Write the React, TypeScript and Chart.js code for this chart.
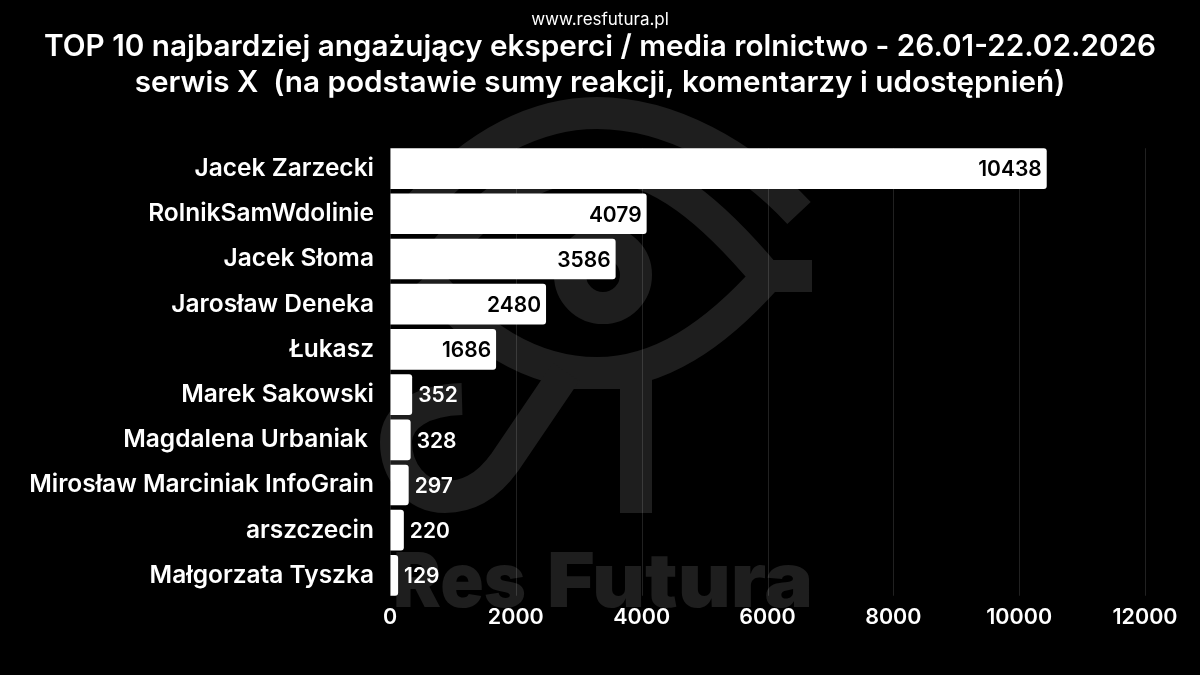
import React, { useEffect, useRef } from "react";
import { Chart, registerables } from "chart.js";

Chart.register(...registerables);

const categories = [
  "Jacek Zarzecki",
  "RolnikSamWdolinie",
  "Jacek Słoma",
  "Jarosław Deneka",
  "Łukasz",
  "Marek Sakowski",
  "Magdalena Urbaniak ",
  "Mirosław Marciniak InfoGrain",
  "arszczecin",
  "Małgorzata Tyszka",
];
const values = [10438, 4079, 3586, 2480, 1686, 352, 328, 297, 220, 129];
const siteLabel = "www.resfutura.pl";
const titleLines = [
  "TOP 10 najbardziej angażujący eksperci / media rolnictwo - 26.01-22.02.2026",
  "serwis X  (na podstawie sumy reakcji, komentarzy i udostępnień)",
];
const watermarkWords = ["Res", "Futura"];
const FONT = "Inter, 'Open Sans', sans-serif";
const MARK = "#1e1e1e";

const watermark = {
  id: "watermark",
  beforeDraw(chart: any) {
    const c = chart.ctx;
    c.save();
    c.fillStyle = "#000";
    c.fillRect(0, 0, chart.width, chart.height);
    c.strokeStyle = MARK;
    c.fillStyle = MARK;
    c.lineWidth = 32;
    c.lineCap = "butt";
    c.lineJoin = "round";
    // outer arc
    c.beginPath();
    c.moveTo(420, 205);
    c.bezierCurveTo(480, 140, 540, 113, 597, 113);
    c.bezierCurveTo(670, 113, 745, 155, 799, 213);
    c.stroke();
    // eye lids
    c.beginPath();
    c.moveTo(425, 277);
    c.bezierCurveTo(480, 200, 540, 165, 597, 165);
    c.bezierCurveTo(660, 165, 715, 215, 767, 277);
    c.bezierCurveTo(715, 335, 660, 373, 597, 373);
    c.bezierCurveTo(530, 373, 475, 335, 425, 277);
    c.stroke();
    // right stub
    c.beginPath();
    c.moveTo(760, 276);
    c.lineTo(812, 276);
    c.stroke();
    // pupil
    c.beginPath();
    c.arc(603, 275, 33, 0, Math.PI * 2);
    c.stroke();
    // stem
    c.beginPath();
    c.moveTo(636, 365);
    c.lineTo(636, 513);
    c.stroke();
    // top of stem joining the lid
    c.beginPath();
    c.moveTo(560, 373);
    c.lineTo(652, 373);
    c.stroke();
    // left tail
    c.beginPath();
    c.moveTo(566, 372);
    c.lineTo(505, 462);
    c.bezierCurveTo(485, 490, 465, 497, 445, 497);
    c.bezierCurveTo(415, 497, 396, 470, 396, 442);
    c.bezierCurveTo(396, 415, 425, 400, 462, 399);
    c.stroke();
    // wordmark
    c.font = `900 76px ${FONT}`;
    c.textAlign = "left";
    c.textBaseline = "alphabetic";
    const spans = [
      [393, 133],
      [547, 266],
    ];
    watermarkWords.forEach((word, i) => {
      const w = c.measureText(word).width;
      c.save();
      c.translate(spans[i][0], 607);
      c.scale(spans[i][1] / w, 1);
      c.fillText(word, 0, 0);
      c.restore();
    });
    c.restore();
  },
};

// Grid lines in the reference run only from the first bar's top to the last bar's bottom.
const gridLines = {
  id: "gridLines",
  beforeDatasetsDraw(chart: any) {
    const c = chart.ctx;
    const bars = chart.getDatasetMeta(0).data;
    const first = bars[0];
    const last = bars[bars.length - 1];
    const top = first.y - first.height / 2;
    const bottom = last.y + last.height / 2;
    const xs = chart.scales.x;
    c.save();
    c.strokeStyle = "rgba(255,255,255,0.13)";
    c.lineWidth = 1;
    xs.ticks.forEach((_: any, i: number) => {
      const x = Math.round(xs.getPixelForTick(i)) + 0.5;
      c.beginPath();
      c.moveTo(x, top);
      c.lineTo(x, bottom);
      c.stroke();
    });
    c.restore();
  },
};

const barValues = {
  id: "barValues",
  afterDatasetsDraw(chart: any) {
    const c = chart.ctx;
    const meta = chart.getDatasetMeta(0);
    c.save();
    c.font = `600 21px ${FONT}`;
    c.textBaseline = "middle";
    meta.data.forEach((bar: any, i: number) => {
      const v = values[i];
      const inside = v > 1000;
      c.fillStyle = inside ? "#000" : "#fff";
      c.textAlign = inside ? "right" : "left";
      c.fillText(String(v), bar.x + (inside ? -5 : 6), bar.y + 1.5);
    });
    c.restore();
  },
};

export default function App() {
  const ref = useRef<HTMLCanvasElement>(null);
  useEffect(() => {
    document.body.style.margin = "0";
    document.body.style.background = "#000";
    const chart = new Chart(ref.current!, {
      type: "bar",
      data: {
        labels: categories,
        datasets: [
          {
            data: values,
            backgroundColor: "#ffffff",
            borderRadius: 3,
            borderSkipped: "left",
            barPercentage: 0.9,
            categoryPercentage: 1,
          },
        ],
      },
      options: {
        indexAxis: "y",
        responsive: false,
        animation: false,
        devicePixelRatio: 1,
        layout: { padding: { top: 11, right: 0, left: 0, bottom: 0 } },
        plugins: {
          legend: { display: false },
          tooltip: { enabled: false },
          title: {
            display: true,
            text: siteLabel,
            color: "#ffffff",
            font: { family: FONT, size: 17, weight: "400", lineHeight: 1.1 },
            padding: { top: 0, bottom: 0 },
          },
          subtitle: {
            display: true,
            text: titleLines,
            color: "#ffffff",
            font: { family: FONT, size: 29.7, weight: "600", lineHeight: 1.2 },
            padding: { top: 0, bottom: 45 },
          },
        },
        scales: {
          x: {
            min: 0,
            max: 12000,
            ticks: {
              stepSize: 2000,
              color: "#ffffff",
              font: { family: FONT, size: 21.5, weight: "600" },
              padding: 7,
              maxRotation: 0,
              callback: (v: any) => String(v),
            },
            grid: { drawOnChartArea: false, drawTicks: false },
            border: { display: false },
            afterFit(s: any) {
              s.height = 77;
            },
          },
          y: {
            ticks: {
              color: "#ffffff",
              font: { family: FONT, size: 24.5, weight: "600" },
              padding: 16,
              autoSkip: false,
            },
            grid: { display: false, drawTicks: false },
            border: { display: false },
            afterFit(s: any) {
              s.width = 390;
            },
          },
          // Empty right-hand axis: reserves the right margin while the titles stay centred on the page.
          spacer: {
            type: "linear",
            axis: "y",
            position: "right",
            ticks: { display: false },
            grid: { display: false, drawTicks: false },
            border: { display: false },
            afterFit(s: any) {
              s.width = 55;
            },
          },
        },
      },
      plugins: [watermark, gridLines, barValues],
    } as any);
    return () => chart.destroy();
  }, []);
  return (
    <div style={{ width: 1200, height: 675, background: "#000" }}>
      <canvas ref={ref} width={1200} height={675} style={{ display: "block" }} />
    </div>
  );
}
